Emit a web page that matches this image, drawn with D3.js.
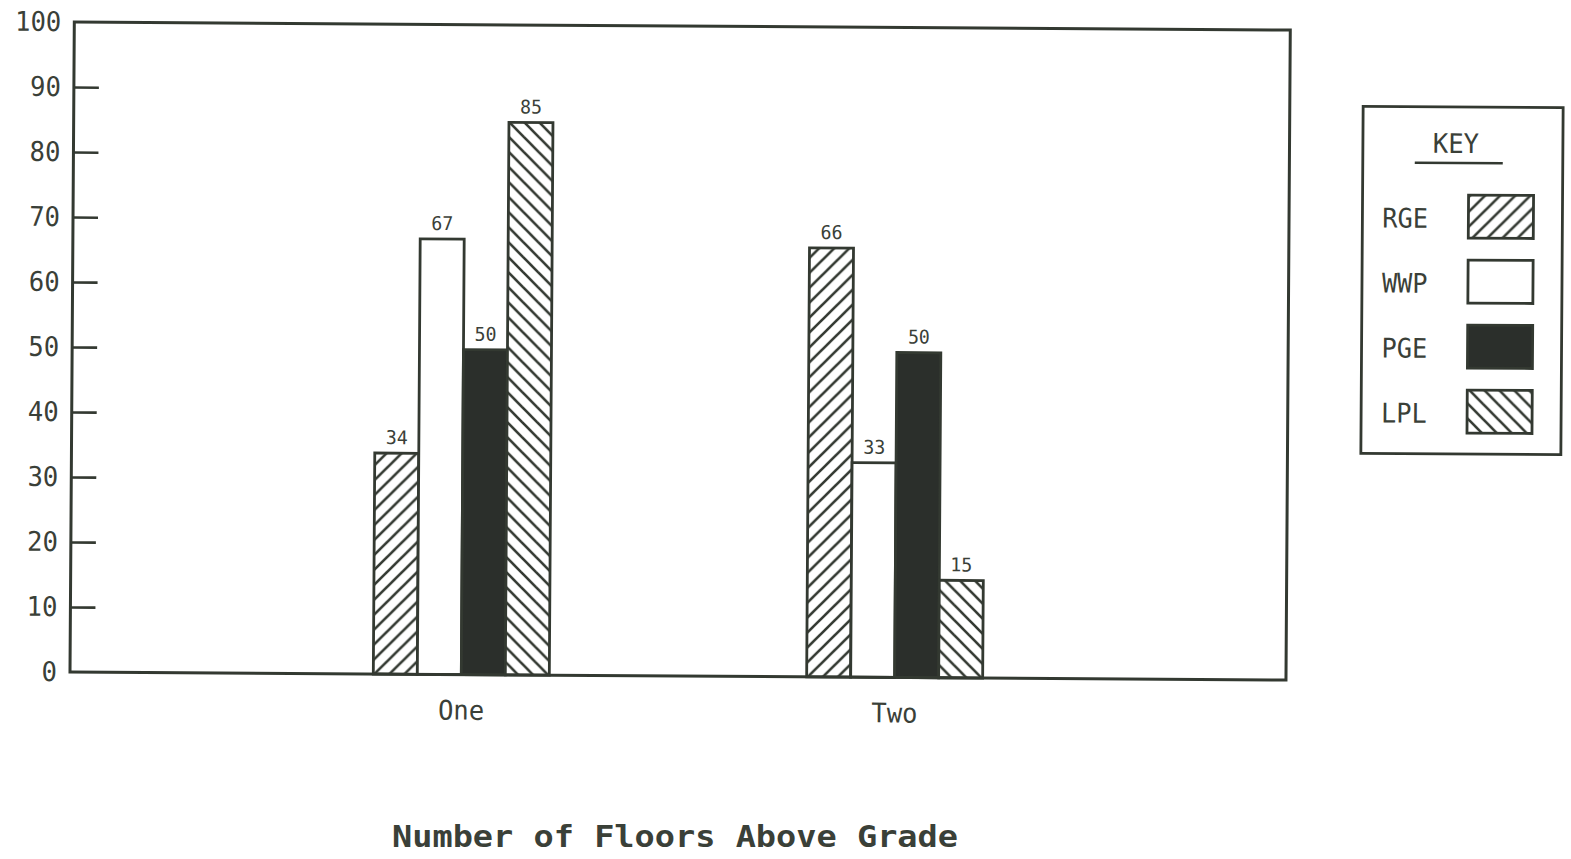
<!DOCTYPE html>
<html>
<head>
<meta charset="utf-8">
<script src="https://cdn.jsdelivr.net/npm/d3@7"></script>
<style>
  html, body { margin: 0; padding: 0; background: #ffffff; }
  svg { display: block; }
  text { font-family: "DejaVu Sans Mono", "Liberation Mono", monospace; fill: #3a4038; }
</style>
</head>
<body>
<svg id="chart" width="1571" height="859"></svg>
<script>
// Share of buildings by number of floors above grade, per utility
const categories = ["One", "Two"];
const seriesNames = ["RGE", "WWP", "PGE", "LPL"];
const rgeValues = [34, 66];
const wwpValues = [67, 33];
const pgeValues = [50, 50];
const lplValues = [85, 15];
const yTicks = [0, 10, 20, 30, 40, 50, 60, 70, 80, 90, 100];
const xTitle = "Number of Floors Above Grade";
const keyTitle = "KEY";

const seriesValues = [rgeValues, wwpValues, pgeValues, lplValues];
const ink = "#333931";

const svg = d3.select("#chart");

// hatch patterns
const defs = svg.append("defs");
function hatch(id, forward) {
  const s = 15;
  const p = defs.append("pattern")
    .attr("id", id).attr("patternUnits", "userSpaceOnUse")
    .attr("width", s).attr("height", s);
  p.append("rect").attr("width", s).attr("height", s).attr("fill", "#fff");
  const lines = forward
    ? [[0, s, s, 0], [-s / 2, s / 2, s / 2, -s / 2], [s / 2, s * 1.5, s * 1.5, s / 2]]
    : [[0, 0, s, s], [-s / 2, s / 2, s / 2, s * 1.5], [s / 2, -s / 2, s * 1.5, s / 2]];
  lines.forEach(l => p.append("line")
    .attr("x1", l[0]).attr("y1", l[1]).attr("x2", l[2]).attr("y2", l[3])
    .attr("stroke", ink).attr("stroke-width", 2.6));
}
hatch("hatchFwd", true);
hatch("hatchBack", false);
const fills = ["url(#hatchFwd)", "#ffffff", "#2b2f2b", "url(#hatchBack)"];

// condensed plotter-style text: fix advance width per character
function fitText(sel, charW) {
  sel.each(function () {
    const t = d3.select(this);
    const n = t.text().length;
    t.attr("textLength", n * charW).attr("lengthAdjust", "spacingAndGlyphs");
  });
}

const plotLeft = 70, plotRight = 1286, plotTop = 22, plotBottom = 672;
const tilt = 0.38;

const plot = svg.append("g")
  .attr("transform", `rotate(${tilt},${plotLeft},${plotBottom})`);

const y = d3.scaleLinear().domain([0, 100]).range([plotBottom, plotTop]);
const x = d3.scalePoint().domain(categories).range([plotLeft, plotRight]).padding(0.903);
const xs = d3.scaleBand().domain(seriesNames).range([-88, 88]).padding(0);

// y axis with inward ticks
const yAxis = d3.axisLeft(y).tickValues(yTicks).tickSizeInner(-25).tickSizeOuter(0).tickPadding(12);
const ya = plot.append("g").attr("transform", `translate(${plotLeft},0)`).call(yAxis);
ya.select(".domain").remove();
ya.selectAll(".tick line").attr("stroke", ink).attr("stroke-width", 2.6)
  .filter(d => d === 0 || d === 100).remove();
ya.selectAll(".tick text")
  .attr("font-family", "DejaVu Sans Mono").attr("font-size", 27).attr("fill", "#3a4038")
  .attr("x", -13)
  .call(fitText, 15.4);

// bars
const groups = plot.selectAll("g.cat").data(categories).join("g")
  .attr("class", "cat").attr("transform", d => `translate(${x(d)},0)`);

groups.each(function (cat, ci) {
  const g = d3.select(this);
  const rows = seriesNames.map((s, si) => ({ s, si, v: seriesValues[si][ci] }));
  g.selectAll("rect.bar").data(rows).join("rect")
    .attr("class", "bar")
    .attr("x", d => xs(d.s)).attr("width", xs.bandwidth())
    .attr("y", d => y(d.v)).attr("height", d => y(0) - y(d.v))
    .attr("fill", d => fills[d.si])
    .attr("stroke", ink).attr("stroke-width", 2.8);
  g.selectAll("text.val").data(rows).join("text")
    .attr("class", "val")
    .attr("x", d => xs(d.s) + xs.bandwidth() / 2)
    .attr("y", d => y(d.v) - 9)
    .attr("text-anchor", "middle")
    .attr("font-size", 19)
    .text(d => d.v)
    .call(fitText, 11);
});

// plot frame
plot.append("rect")
  .attr("x", plotLeft).attr("y", plotTop)
  .attr("width", plotRight - plotLeft).attr("height", plotBottom - plotTop)
  .attr("fill", "none").attr("stroke", ink).attr("stroke-width", 3);

// category labels
plot.selectAll("text.catlabel").data(categories).join("text")
  .attr("class", "catlabel")
  .attr("x", d => x(d)).attr("y", plotBottom + 45)
  .attr("text-anchor", "middle").attr("font-size", 27)
  .text(d => d)
  .call(fitText, 15.4);

// axis title
svg.append("text")
  .attr("x", 392).attr("y", 847)
  .attr("font-size", 30).attr("font-weight", "bold").attr("fill", "#2f352e")
  .attr("textLength", 566).attr("lengthAdjust", "spacingAndGlyphs")
  .text(xTitle);

// key
const kx = 1362, ky = 107, kw = 200, kh = 347;
const key = svg.append("g")
  .attr("transform", `rotate(${tilt},${kx + kw / 2},${ky + kh / 2})`);
key.append("rect").attr("x", kx).attr("y", ky).attr("width", kw).attr("height", kh)
  .attr("fill", "#fff").attr("stroke", ink).attr("stroke-width", 2.8);
key.append("text").attr("x", 1455).attr("y", 153).attr("text-anchor", "middle")
  .attr("font-size", 27).text(keyTitle).call(fitText, 15.4);
key.append("line").attr("x1", 1414).attr("x2", 1502).attr("y1", 163).attr("y2", 163)
  .attr("stroke", ink).attr("stroke-width", 2.6);
const keyRows = key.selectAll("g.row").data(seriesNames).join("g")
  .attr("class", "row")
  .attr("transform", (d, i) => `translate(0,${195 + i * 65})`);
keyRows.append("text").attr("x", 1382).attr("y", 33).attr("font-size", 27)
  .text(d => d).call(fitText, 15.2);
keyRows.append("rect").attr("x", 1468).attr("y", 0).attr("width", 65).attr("height", 43)
  .attr("fill", (d, i) => fills[i]).attr("stroke", ink).attr("stroke-width", 2.8);
</script>
</body>
</html>
